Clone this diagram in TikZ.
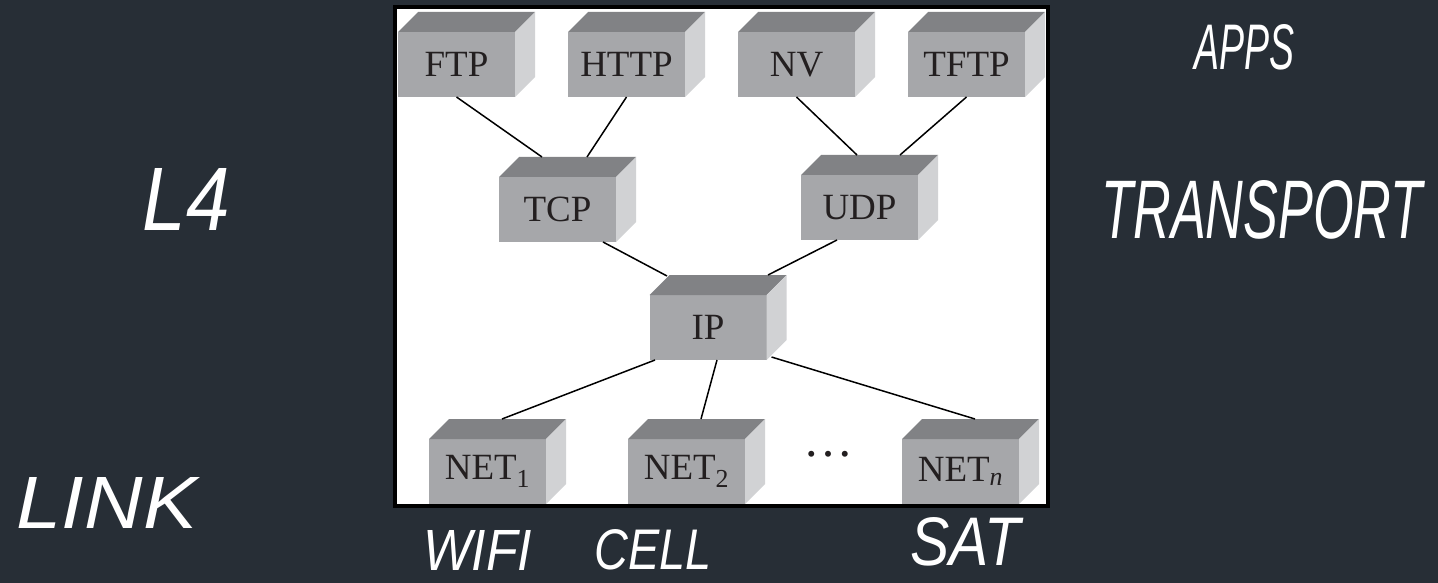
\documentclass[tikz,border=0pt]{standalone}
\usepackage{fontspec}
\setmainfont{Liberation Serif}
\newfontfamily\handfont{Liberation Sans}
\usepackage{graphicx}
\usetikzlibrary{calc}
\definecolor{bgc}{RGB}{39,46,54}
\definecolor{frontc}{RGB}{166,167,170}
\definecolor{topc}{RGB}{129,130,133}
\definecolor{sidec}{RGB}{209,210,212}
\definecolor{txtc}{RGB}{35,31,32}
\tikzset{
  cube/.style={fill=frontc, minimum width=117pt, minimum height=65pt, inner sep=0pt, outer sep=0pt,
    text=txtc, font=\fontsize{37}{37}\selectfont},
  link/.style={line width=1.5pt, black},
  hand/.style={text=white, inner sep=0pt},
}
\newcommand{\handtext}[3]{\resizebox{#1pt}{#2pt}{\handfont\itshape #3}}
\begin{document}
\begin{tikzpicture}[x=1pt,y=-1pt]
\fill[bgc] (0,0) rectangle (1438,583);
\useasboundingbox (0,0) rectangle (1438,583);
\fill[white] (395,7) rectangle (1048,506);

% cubes (front faces)
\node[cube] (ftp)  at (456.5,64.5) {FTP};
\node[cube] (http) at (626.5,64.5) {HTTP};
\node[cube] (nv)   at (796.5,64.5) {NV};
\node[cube] (tftp) at (966.5,64.5) {TFTP};
\node[cube] (tcp)  at (557.5,209.5) {TCP};
\node[cube] (udp)  at (859.5,207.5) {UDP};
\node[cube] (ip)   at (708,327.5) {IP};
\node[cube] (net1) at (487.5,471.5) {NET\textsubscript{1}};
\node[cube] (net2) at (686.5,471.5) {NET\textsubscript{2}};
\node[cube] (netn) at (960.5,471.5) {NET\textsubscript{\textit{n}}};

\foreach \n in {ftp,http,nv,tftp,tcp,udp,ip,net1,net2,netn}{
  \fill[topc] (\n.north west) -- ++(20pt,20pt) -- ++(117pt,0pt) -- (\n.north east) -- cycle;
  \fill[sidec] (\n.north east) -- ++(20pt,20pt) -- ++(0pt,-65pt) -- (\n.south east) -- cycle;
}

% connectors
\draw[link] (ftp.south) -- ([shift={(-15.5pt,20pt)}]tcp.north);
\draw[link] (http.south) -- ([shift={(29.5pt,20pt)}]tcp.north);
\draw[link] (nv.south) -- ([shift={(-2.5pt,20pt)}]udp.north);
\draw[link] (tftp.south) -- ([shift={(40.5pt,20pt)}]udp.north);
\draw[link] ([xshift=45.5pt]tcp.south) -- ([shift={(-41pt,19pt)}]ip.north);
\draw[link] ([xshift=-22.5pt]udp.south) -- ([shift={(60pt,20pt)}]ip.north);
\draw[link] ([xshift=-53pt]ip.south) -- ([shift={(14.5pt,20pt)}]net1.north);
\draw[link] ([xshift=9pt]ip.south) -- ([shift={(14.5pt,20pt)}]net2.north);
\draw[link] ([shift={(5pt,3pt)}]ip.south east) -- ([shift={(14.5pt,20pt)}]netn.north);

\node[anchor=base, text=txtc, inner sep=0pt] (dots) at (828,456) {\fontsize{50}{50}\selectfont\textellipsis};

\draw[line width=4.5pt, black] (395,7) rectangle (1048,506);

% handwritten labels
\node[hand] (apps) at (1244,47.5) {\handtext{100}{45}{APPS}};
\node[hand] (transport) at (1262,210) {\handtext{321}{58}{TRANSPORT}};
\node[hand] (l4) at (186.5,199) {\handtext{87}{62}{L4}};
\node[hand] (linkl) at (107,502.5) {\handtext{180}{51}{LINK}};
\node[hand] (wifi) at (477.5,550) {\handtext{109}{40}{WIFI}};
\node[hand] (cell) at (653,550) {\handtext{117}{40}{CELL}};
\node[hand] (sat) at (965,542) {\handtext{110}{48}{SAT}};
\end{tikzpicture}
\end{document}
